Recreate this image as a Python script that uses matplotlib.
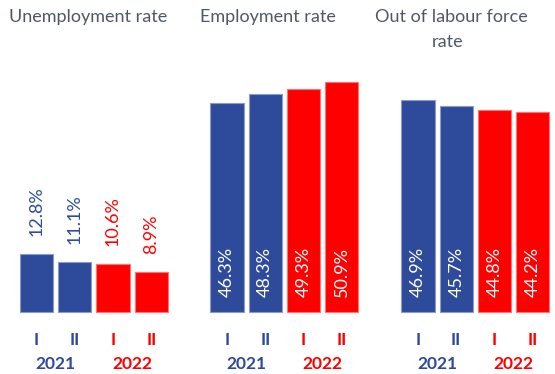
import matplotlib
matplotlib.use("Agg")
import matplotlib.pyplot as plt
from matplotlib.colors import to_rgb

plt.rcParams['font.family'] = ['Lato', 'DejaVu Sans']

# Data
quarters = ["I", "II", "I", "II"]
years = ["2021", "2022"]
unemployment = [12.8, 11.1, 10.6, 8.9]
employment = [46.3, 48.3, 49.3, 50.9]
out_of_labour = [46.9, 45.7, 44.8, 44.2]
titles = ["Unemployment rate", "Employment rate", "Out of labour force\nrate"]

BLUE = "#2E4A9A"
RED = "#FF0000"
TITLE_C = "#4F5866"
colors = [BLUE, BLUE, RED, RED]

W, H = 555, 374
fig = plt.figure(figsize=(W / 100, H / 100), dpi=100)

def lighten(c, f=0.45):
    r, g, b = to_rgb(c)
    return (r + (1 - r) * f, g + (1 - g) * f, b + (1 - b) * f)

# panel geometry in pixels
step = 38.25
first_centers = [36.5, 227.0, 418.0]
base_px = 311.7
px_per_unit = 4.51
ymax = 60

panels = [unemployment, employment, out_of_labour]
label_inside = [False, True, True]

for k, (vals, inside) in enumerate(zip(panels, label_inside)):
    left = first_centers[k] - step / 2
    width = step * 4
    bottom = H - base_px
    height = ymax * px_per_unit
    ax = fig.add_axes([left / W, bottom / H, width / W, height / H])
    ax.set_xlim(-0.5, 3.5)
    ax.set_ylim(0, ymax)
    ax.axis("off")
    xs = range(len(vals))
    ax.bar(xs, vals, width=0.875, color=colors,
           edgecolor=[lighten(c) for c in colors], linewidth=0.8, clip_on=False)
    for x, v, c in zip(xs, vals, colors):
        txt = f"{v:.1f}%"
        if inside:
            ax.annotate(txt, (x, 0), xytext=(0, 15), textcoords="offset pixels",
                        rotation=90, ha="center", va="bottom", color="white",
                        fontsize=13)
        else:
            ax.annotate(txt, (x, v), xytext=(0, 18), textcoords="offset pixels",
                        rotation=90, ha="center", va="bottom", color=c,
                        fontsize=13)
    # quarter labels
    for x, q, c in zip(xs, quarters, colors):
        ax.annotate(q, (x, 0), xytext=(0, -28), textcoords="offset pixels",
                    ha="center", va="center", color=c, fontsize=12.5,
                    fontweight="bold", annotation_clip=False)
    # year labels
    for i, (yr, c) in enumerate(zip(years, [BLUE, RED])):
        ax.annotate(yr, (2 * i + 0.5, 0), xytext=(0, -52), textcoords="offset pixels",
                    ha="center", va="center", color=c, fontsize=12.5,
                    fontweight="bold", annotation_clip=False)

# panel titles
fig.text(88.5 / W, 1 - 17 / H, titles[0], ha="center", va="center",
         color=TITLE_C, fontsize=13)
fig.text(268 / W, 1 - 17 / H, titles[1], ha="center", va="center",
         color=TITLE_C, fontsize=13)
line1, line2 = titles[2].split("\n")
fig.text(375 / W, 1 - 17 / H, line1, ha="left", va="center",
         color=TITLE_C, fontsize=13)
fig.text(448 / W, 1 - 42 / H, line2, ha="center", va="center",
         color=TITLE_C, fontsize=13)

fig.savefig("out.png", dpi=100, facecolor="white")
